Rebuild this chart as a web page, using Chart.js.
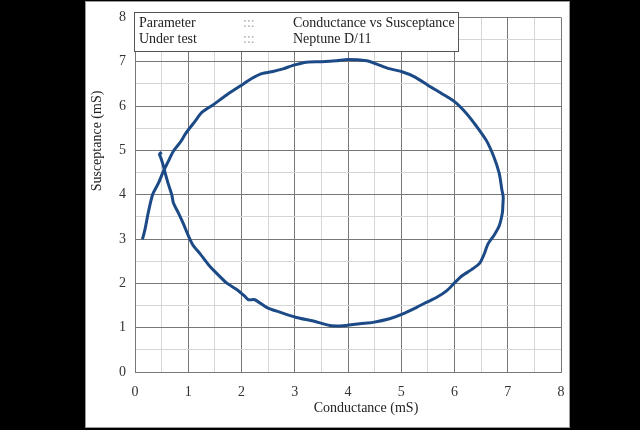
<!DOCTYPE html>
<html>
<head>
<meta charset="utf-8">
<script src="https://cdn.jsdelivr.net/npm/chart.js@4/dist/chart.umd.min.js"></script>
<style>
html,body{margin:0;padding:0;background:#000;}
#wrap{position:absolute;left:0;top:0;width:640px;height:430px;}
</style>
</head>
<body>
<div id="wrap"><canvas id="c" width="640" height="430"></canvas></div>
<script>
// Data (Conductance in mS, Susceptance in mS), in trace order
const conductance = [0.14,0.19,0.25,0.33,0.44,0.53,0.62,0.72,0.86,0.95,1.13,1.25,1.47,1.72,2.0,2.19,2.38,2.59,2.78,3.0,3.22,3.5,3.78,4.0,4.35,4.53,4.75,5.0,5.25,5.5,5.75,6.0,6.22,6.41,6.6,6.74,6.84,6.89,6.915,6.91,6.9,6.84,6.74,6.63,6.55,6.47,6.32,6.13,6.0,5.85,5.66,5.47,5.29,5.03,4.78,4.47,4.22,3.97,3.85,3.66,3.35,3.03,2.72,2.47,2.25,2.13,2.06,1.91,1.72,1.53,1.38,1.22,1.09,1.0,0.91,0.81,0.72,0.69,0.62,0.56,0.52,0.48,0.46,0.5];
const susceptance = [2.99,3.23,3.6,4.0,4.26,4.52,4.74,4.98,5.2,5.38,5.66,5.85,6.03,6.25,6.47,6.62,6.73,6.78,6.84,6.93,6.99,7.0,7.02,7.05,7.02,6.95,6.85,6.78,6.66,6.47,6.29,6.10,5.84,5.55,5.22,4.85,4.48,4.11,3.95,3.8,3.6,3.3,3.08,2.89,2.64,2.45,2.31,2.16,2.01,1.83,1.68,1.57,1.46,1.31,1.2,1.12,1.09,1.05,1.04,1.05,1.15,1.23,1.35,1.46,1.63,1.63,1.71,1.86,2.01,2.23,2.42,2.67,2.86,3.08,3.34,3.6,3.82,4.0,4.26,4.52,4.70,4.85,4.91,4.96];
const xTicks = [0,1,2,3,4,5,6,7,8];
const yTicks = [0,1,2,3,4,5,6,7,8];
const legendRows = [["Parameter", ":::", "Conductance vs Susceptance"], ["Under test", ":::", "Neptune D/11"]];
const xTitle = "Conductance (mS)";
const yTitle = "Susceptance (mS)";

const points = conductance.map((x, i) => ({x: x, y: susceptance[i]}));
const FONT = '"Liberation Serif", "Times New Roman", serif';

const bgPlugin = {
  id: 'bg',
  beforeDraw(chart) {
    const ctx = chart.ctx;
    ctx.save();
    ctx.fillStyle = '#000';
    ctx.fillRect(0, 0, 640, 430);
    ctx.fillStyle = '#fff';
    ctx.fillRect(85, 1, 485, 427);
    ctx.strokeStyle = '#9a9a9a';
    ctx.lineWidth = 1;
    ctx.strokeRect(85.5, 1.5, 484, 426);
    ctx.restore();
  },
  afterDraw(chart) {
    const ctx = chart.ctx;
    ctx.save();
    // legend box
    ctx.fillStyle = '#fff';
    ctx.fillRect(134, 12, 324, 39);
    ctx.strokeStyle = '#555';
    ctx.lineWidth = 1;
    ctx.strokeRect(134.5, 12.5, 324, 39);
    ctx.font = '14px ' + FONT;
    ctx.textBaseline = 'middle';
    const rowsY = [23.5, 39.5];
    legendRows.forEach((r, i) => {
      ctx.fillStyle = '#222';
      ctx.fillText(r[0], 139, rowsY[i]);
      ctx.fillStyle = '#aaa';
      ctx.fillText(r[1], 243, rowsY[i]);
      ctx.fillStyle = '#222';
      ctx.fillText(r[2], 293, rowsY[i]);
    });
    // axis titles
    ctx.fillStyle = '#222';
    ctx.textAlign = 'center';
    ctx.fillText(xTitle, 366, 408);
    ctx.translate(97, 141);
    ctx.rotate(-Math.PI / 2);
    ctx.fillText(yTitle, 0, 0);
    ctx.restore();
  }
};

const gridColor = (c) => (Math.abs(c.tick.value - Math.round(c.tick.value)) < 1e-6 ? '#777' : '#d6d6d6');
const tickCb = (list) => (v) => (list.includes(v) ? String(v) : '');

new Chart(document.getElementById('c'), {
  type: 'scatter',
  data: {
    datasets: [{
      data: points,
      showLine: true,
      borderColor: '#1c4a86',
      borderWidth: 3,
      pointRadius: 0,
      tension: 0.25,
      fill: false
    }]
  },
  options: {
    responsive: false,
    animation: false,
    devicePixelRatio: 1,
    layout: {padding: {left: 0, top: 12, right: 79, bottom: 0}},
    plugins: {legend: {display: false}, tooltip: {enabled: false}},
    scales: {
      x: {
        type: 'linear', min: 0, max: 8,
        afterFit(s) { s.height = 58; },
        ticks: {stepSize: 0.5, autoSkip: false, maxRotation: 0, padding: 12, color: '#333',
          font: {family: FONT, size: 14}, callback: tickCb(xTicks)},
        grid: {color: gridColor, drawTicks: false, lineWidth: 1},
        border: {display: true, color: '#777'}
      },
      y: {
        type: 'linear', min: 0, max: 8,
        afterFit(s) { s.width = 135; },
        ticks: {stepSize: 0.5, autoSkip: false, padding: 9, color: '#333',
          font: {family: FONT, size: 14}, callback: tickCb(yTicks)},
        grid: {color: gridColor, drawTicks: false, lineWidth: 1},
        border: {display: true, color: '#777'}
      }
    }
  },
  plugins: [bgPlugin]
});
</script>
</body>
</html>
